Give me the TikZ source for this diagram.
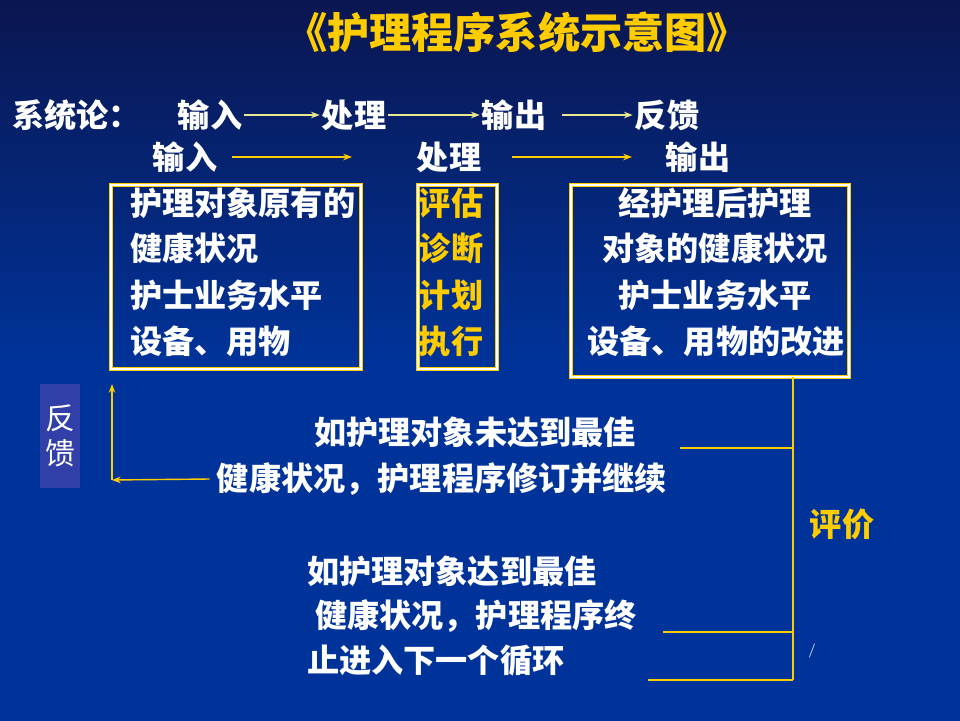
\documentclass[tikz,border=0pt]{standalone}
\usepackage{fontspec}
\newfontfamily\cjk{Noto Sans CJK SC}
\usetikzlibrary{positioning}
\usetikzlibrary{arrows.meta}
\definecolor{bgtop}{HTML}{0A1650}
\definecolor{bgbot}{HTML}{003399}
\definecolor{gold}{HTML}{FFCC00}
\definecolor{pale}{HTML}{E8E890}
\definecolor{fbbox}{HTML}{3040A8}
\tikzset{txt/.style={text=white,font=\cjk\bfseries\fontsize{18.3}{18.3}\selectfont,inner sep=1pt}}
\tikzset{ylw/.style={txt,text=gold}}
\tikzset{ar/.style={-{Stealth[length=5pt]},gold,line width=1.2pt}}
\tikzset{frame/.style={draw=gold,double=white,double distance=0.6pt,line width=0.6pt}}
\tikzset{ln/.style={gold,line width=0.6pt}}

\begin{document}
\begin{tikzpicture}[x=0.02cm,y=-0.02cm]
        \shade[top color=bgtop,bottom color=bgbot,middle color=bgbot] (0,0) rectangle (960,720);
        \useasboundingbox (0,0) rectangle (960,720);

        \node[ylw,font=\cjk\bfseries\fontsize{24}{24}\selectfont] (title) at (517,32) {《护理程序系统示意图》};

        % system theory row
        \node[txt,anchor=west] (sys) at (10,115) {系统论：};
        \node[txt] (in1) at (210,115) {输入};
        \node[txt] (pr1) at (354,115) {处理};
        \node[txt] (out1) at (514,115) {输出};
        \node[txt] (fb1) at (667,115) {反馈};
        \coordinate (a1) at (562,115);
        \draw[ar,pale] (in1) -- (pr1);
        \draw[ar,pale] (pr1) -- (out1);
        \draw[ar,pale] (a1) -- (fb1);

        % nursing row
        \node[txt] (in2) at (185,157) {输入};
        \node[txt] (pr2) at (449,157) {处理};
        \node[txt] (out2) at (698,157) {输出};
        \coordinate (b1) at (232,157);
        \coordinate (b2) at (352,157);
        \coordinate (b3) at (512,157);
        \coordinate (b4) at (632,157);
        \draw[ar] (b1) -- (b2);
        \draw[ar] (b3) -- (b4);

        \draw[frame] (111,185) rectangle (361,369);
        \draw[frame] (418,185) rectangle (497,369);
        \draw[frame] (571,185) rectangle (849,377);

        \node[txt,anchor=west] (l1) at (128,203) {护理对象原有的};
        \node[txt,anchor=west] (l2) at (128,248) {健康状况};
        \node[txt,anchor=west] (l3) at (128,295) {护士业务水平};
        \node[txt,anchor=west] (l4) at (128,341) {设备、用物};

        \node[ylw] (m1) at (451,203) {评估};
        \node[ylw] (m2) at (451,248) {诊断};
        \node[ylw] (m3) at (451,295) {计划};
        \node[ylw] (m4) at (451,341) {执行};

        \node[txt] (r1) at (715,203) {经护理后护理};
        \node[txt] (r2) at (715,248) {对象的健康状况};
        \node[txt] (r3) at (715,295) {护士业务水平};
        \node[txt] (r4) at (716,341) {设备、用物的改进};

        % feedback
        \node[fill=fbbox,minimum width=0.8cm,minimum height=2.08cm,inner sep=0pt,
              text=white,font=\cjk\fontsize{17}{20}\selectfont,align=center] (fb) at (60,436) {反\\馈};
        \node[txt] (nb1) at (475,432) {如护理对象未达到最佳};
        \node[txt] (nb2) at (442,479) {健康状况，护理程序修订并继续};
        \coordinate (corner) at (112,480);
        \coordinate (top) at (112,384);
        \draw[ar,line width=0.8pt] ([xshift=-3pt]nb2.west) -- (corner);
        \draw[ar,line width=0.8pt] (corner) -- (top);

        % evaluation
        \coordinate (vt) at (793,377);
        \coordinate (vb) at (793,680);
        \draw[ln] (vt) -- (vb);
        \coordinate (h1) at (680,448);
        \coordinate (h2) at (663,632);
        \coordinate (h3) at (648,680);
        \draw[ln] (h1) -- (h1 -| vt);
        \draw[ln] (h2) -- (h2 -| vt);
        \draw[ln] (h3) -- (vb);
        \node[ylw] (ev) at (842,524) {评价};

        \node[txt,anchor=west] (ok1) at (305,571) {如护理对象达到最佳};
        \node[txt,anchor=west] (ok2) at (313,616) {健康状况，护理程序终};
        \node[txt,anchor=west] (ok3) at (305,661) {止进入下一个循环};
        \node[text=white,font=\fontsize{8}{8}\selectfont,inner sep=0pt] (mark) at (812,651) {/};
\end{tikzpicture}
\end{document}
